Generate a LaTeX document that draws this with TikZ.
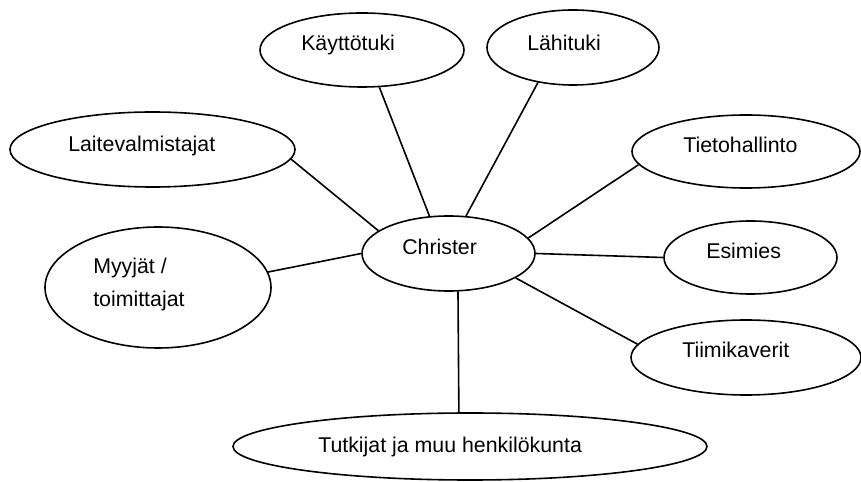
\documentclass[tikz,border=0pt]{standalone}
\usepackage{fontspec}
\setmainfont{Liberation Sans}
\usetikzlibrary{shapes.geometric}
\tikzset{
  bubble/.style={draw, ellipse, line width=1.2pt, inner sep=0pt},
  word/.style={anchor=base west, inner sep=0pt, font=\fontsize{16}{24.75}\selectfont},
  link/.style={line width=1.2pt}
}
\begin{document}
\begin{tikzpicture}[x=0.75pt, y=0.75pt]
    \useasboundingbox (0, 0) rectangle (861, 482) ;
    \node[bubble, minimum width=129.75pt, minimum height=56.25pt] (christer) at (448.5, 228.5) {} ;
    \node[bubble, minimum width=153pt, minimum height=55.5pt] (kaytto) at (362, 432) {} ;
    \node[bubble, minimum width=129pt, minimum height=56.25pt] (lahi) at (573, 434.5) {} ;
    \node[bubble, minimum width=213.75pt, minimum height=56.25pt] (laite) at (152.5, 332.5) {} ;
    \node[bubble, minimum width=169.5pt, minimum height=90.75pt] (myyja) at (158, 194.5) {} ;
    \node[bubble, minimum width=171pt, minimum height=54.75pt] (tieto) at (746, 330.5) {} ;
    \node[bubble, minimum width=129.75pt, minimum height=54.75pt] (esimies) at (750.5, 224.5) {} ;
    \node[bubble, minimum width=172.5pt, minimum height=56.25pt] (tiimi) at (746, 124.5) {} ;
    \node[bubble, minimum width=355.5pt, minimum height=50.25pt] (tutkija) at (470, 35.5) {} ;
    \node[word] (t-christer) at (402, 227) {Christer} ;
    \node[word] (t-kaytto) at (301, 431) {Käyttötuki} ;
    \node[word] (t-lahi) at (527, 431) {Lähituki} ;
    \node[word] (t-laite) at (68, 330) {Laitevalmistajat} ;
    \node[word, align=left] (t-myyja) at (93, 175) {Myyjät /\\toimittajat} ;
    \node[word] (t-tieto) at (683, 329) {Tietohallinto} ;
    \node[word] (t-esimies) at (706, 223) {Esimies} ;
    \node[word] (t-tiimi) at (682, 124) {Tiimikaverit} ;
    \node[word] (t-tutkija) at (318, 29) {Tutkijat ja muu henkilökunta} ;
    \draw[link] (kaytto.-65) -- (christer.117) ;
    \draw[link] (lahi.-135) -- (christer.65) ;
    \draw[link] (laite.-4) -- (christer.162) ;
    \draw[link] (myyja.8) -- (christer.180) ;
    \draw[link] (tieto.-173) -- (christer.11) ;
    \draw[link] (esimies.west) -- (christer.east) ;
    \draw[link] (tiimi.173) -- (christer.-20) ;
    \draw[link] (tutkija.108) -- (christer.-76) ;
  \end{tikzpicture}
\end{document}
